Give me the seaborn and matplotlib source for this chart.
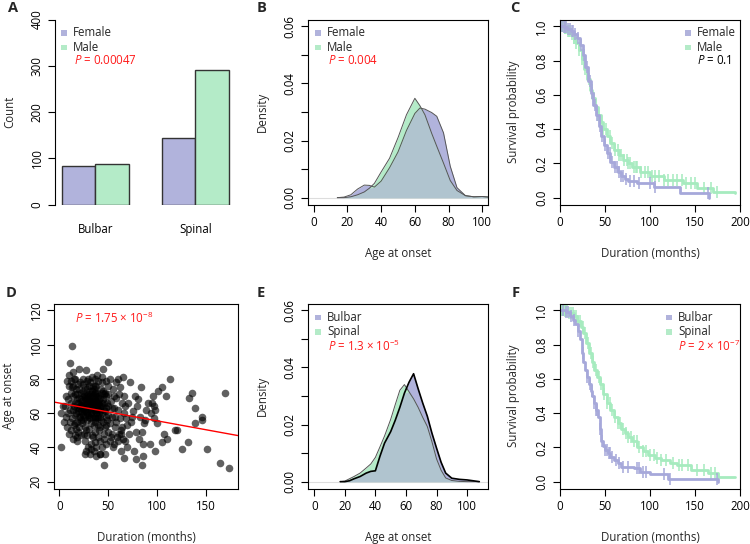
import numpy as np
import pandas as pd
import matplotlib
matplotlib.use("Agg")
import matplotlib.pyplot as plt
from matplotlib.patches import Rectangle
import seaborn as sns

# ---------------- data ----------------
onset_sites   = ["Bulbar", "Spinal"]
female_counts = [83, 144]
male_counts   = [87, 291]

# panel B: age-at-onset density by sex
b_age    = [14, 18, 22, 26, 30, 33, 36, 40, 45, 50, 55, 60, 63, 66, 70, 73, 77, 81, 85, 90, 95, 100, 104]
b_female = [0.0000, 0.0002, 0.0010, 0.0030, 0.0044, 0.0043, 0.0037, 0.0058, 0.0105, 0.0160, 0.0235, 0.0295,
            0.0314, 0.0310, 0.0298, 0.0285, 0.0227, 0.0110, 0.0035, 0.0007, 0.0003, 0.0004, 0.0002]
b_male   = [0.0000, 0.0000, 0.0003, 0.0010, 0.0020, 0.0033, 0.0050, 0.0090, 0.0138, 0.0210, 0.0290, 0.0348,
            0.0322, 0.0290, 0.0225, 0.0180, 0.0121, 0.0060, 0.0025, 0.0007, 0.0003, 0.0004, 0.0002]

# panel E: age-at-onset density by site
e_age    = [17, 20, 23, 26, 30, 34, 37, 40, 43, 46, 50, 53, 56, 59, 62, 65, 68, 71, 74, 77, 80, 83, 86, 90,
            95, 100, 104, 108]
e_bulbar = [0.0000, 0.0000, 0.0003, 0.0010, 0.0018, 0.0030, 0.0036, 0.0038, 0.0089, 0.0135, 0.0175, 0.0215,
            0.0260, 0.0310, 0.0348, 0.0378, 0.0325, 0.0275, 0.0229, 0.0170, 0.0118, 0.0068, 0.0030, 0.0012,
            0.0008, 0.0006, 0.0003, 0.0000]
e_spinal = [0.0000, 0.0002, 0.0010, 0.0018, 0.0030, 0.0048, 0.0062, 0.0085, 0.0122, 0.0160, 0.0218, 0.0270,
            0.0320, 0.0340, 0.0315, 0.0290, 0.0260, 0.0225, 0.0193, 0.0140, 0.0080, 0.0040, 0.0013, 0.0004,
            0.0001, 0.0000, 0.0000, 0.0000]

# panel C: survival by sex
c_female_t = [0, 4, 8, 12, 16, 19, 22, 25, 28, 31, 34, 37, 40, 43, 46, 49, 52, 56, 60, 64, 68, 72, 76, 85,
              104, 133, 165]
c_female_s = [1.00, 0.995, 0.985, 0.97, 0.955, 0.93, 0.89, 0.83, 0.76, 0.68, 0.61, 0.54, 0.48, 0.42, 0.36,
              0.31, 0.26, 0.21, 0.18, 0.15, 0.125, 0.11, 0.095, 0.084, 0.064, 0.029, 0.0]
c_female_cens = [2, 4, 5, 7, 9, 11, 13, 14, 17, 20, 23, 27, 30, 33, 36, 39, 41, 44, 47, 50, 53, 55, 58,
                 61, 63, 66, 68, 70, 73, 78, 82, 88, 100, 105, 164]
c_male_t = [0, 4, 8, 12, 15, 18, 21, 24, 27, 30, 33, 36, 39, 42, 45, 48, 52, 56, 60, 65, 70, 75, 80, 89,
            100, 115, 137, 152, 170, 194]
c_male_s = [1.00, 0.99, 0.975, 0.955, 0.93, 0.90, 0.86, 0.81, 0.75, 0.69, 0.63, 0.58, 0.53, 0.48, 0.44,
            0.40, 0.36, 0.32, 0.28, 0.25, 0.22, 0.20, 0.18, 0.15, 0.125, 0.103, 0.084, 0.055, 0.035, 0.026]
c_male_cens = [1, 2, 3, 5, 6, 7, 9, 10, 11, 13, 15, 16, 18, 21, 24, 28, 32, 35, 38, 42, 45, 48, 51, 55,
               58, 61, 64, 66, 68, 71, 74, 76, 78, 82, 84, 86, 90, 94, 98, 102, 106, 110, 115, 120, 125,
               130, 135, 140, 145, 150, 160, 168, 174]

# panel F: survival by site
f_bulbar_t = [0, 7, 11, 14, 17, 20, 22, 24, 26, 28, 30, 32, 34, 36, 38, 40, 42, 44, 46, 48, 50, 53, 56, 60,
              64, 68, 82, 89, 100, 120, 175]
f_bulbar_s = [1.0, 0.99, 0.965, 0.945, 0.92, 0.88, 0.83, 0.75, 0.70, 0.65, 0.61, 0.57, 0.53, 0.50, 0.46,
              0.42, 0.38, 0.31, 0.24, 0.21, 0.185, 0.165, 0.146, 0.125, 0.11, 0.088, 0.078, 0.058, 0.045,
              0.016, 0.0]
f_bulbar_cens = [3, 7, 9, 12, 15, 20, 25, 30, 33, 35, 38, 40, 41, 44, 47, 50, 52, 54, 55, 58, 62, 66, 70,
                 75, 85, 88, 92, 96, 115, 122, 174]
f_spinal_t = [0, 5, 10, 15, 19, 23, 26, 29, 32, 35, 38, 41, 44, 48, 52, 56, 60, 64, 68, 72, 76, 80, 86, 92,
              98, 105, 112, 122, 130, 145, 164, 175, 194]
f_spinal_s = [1.0, 0.995, 0.985, 0.965, 0.94, 0.90, 0.87, 0.81, 0.75, 0.70, 0.65, 0.61, 0.57, 0.51, 0.46,
              0.42, 0.38, 0.34, 0.31, 0.285, 0.26, 0.235, 0.205, 0.18, 0.155, 0.14, 0.127, 0.11, 0.098,
              0.068, 0.049, 0.026, 0.026]
f_spinal_cens = [1, 2, 3, 4, 6, 7, 8, 10, 12, 14, 16, 18, 20, 22, 25, 28, 31, 34, 37, 40, 43, 46, 49, 52,
                 55, 58, 61, 64, 67, 70, 73, 76, 79, 82, 85, 88, 92, 96, 100, 104, 108, 112, 118, 126,
                 132, 136, 142, 152, 160, 168, 172]

# panel D: duration vs age at onset
d_duration = [8, 10, 12, 14, 15, 16, 17, 18, 19, 20,
              21, 22, 23, 24, 25, 26, 27, 28, 29, 30,
              31, 32, 33, 34, 35, 36, 37, 38, 39, 40,
              41, 42, 43, 44, 45, 46, 47, 48, 49, 50,
              11, 13, 15, 17, 19, 21, 23, 25, 27, 29,
              31, 33, 35, 37, 39, 41, 43, 45, 47, 49,
              12, 14, 16, 18, 20, 22, 24, 26, 28, 30,
              32, 34, 36, 38, 40, 42, 44, 46, 48, 50,
              9, 11, 13, 15, 17, 19, 21, 23, 25, 27,
              29, 31, 33, 35, 37, 39, 41, 43, 45, 47,
              52, 53, 54, 55, 56, 57, 58, 59, 60, 61,
              52, 54, 56, 58, 60, 62, 63, 64, 65, 66,
              6, 7, 8, 10, 12, 14, 16, 18, 20, 22,
              24, 26, 28, 30, 32, 34, 36, 38, 40, 42,
              44, 46, 48, 50, 27, 29, 31, 35, 38, 42,
              22, 24, 26, 28, 30, 32, 34, 36, 38, 40,
              18, 20, 22, 24, 26, 28, 30, 32, 34, 36,
              38, 40, 42, 44, 46, 48, 50, 52, 54, 56,
              14, 16, 18, 20, 22, 26, 28, 30, 32, 34,
              36, 38, 40, 42, 44, 46, 48, 50, 16, 19,
              13, 11, 20, 27, 45, 50, 2, 2, 4, 65,
              72, 77, 84, 89, 96, 101, 105, 109, 113, 95,
              97, 87, 100, 107, 110, 93, 98, 105, 86, 86,
              85, 78, 76, 69, 66, 71, 85, 83, 97, 98,
              118, 120, 125, 132, 133, 136, 139, 139, 146, 146,
              151, 164, 173, 169, 46, 47, 42, 26, 32, 18,
              62, 64, 67, 68, 70, 73, 75, 78, 80, 82,
              58, 60, 63, 66, 69, 74, 79, 88, 91, 94,
              5, 7, 9, 10, 12, 14, 16, 24, 28, 33,
              36, 39, 44, 48, 53, 55, 57, 61, 63, 67,
              23, 25, 27, 29, 31, 33, 35, 37, 39, 41,
              24, 26, 28, 30, 32, 34, 36, 38, 40, 42]
d_age = [79, 76, 72, 70, 80, 66, 74, 63, 77, 69,
         58, 72, 65, 80, 61, 75, 68, 56, 71, 64,
         78, 60, 73, 67, 53, 76, 62, 70, 57, 79,
         65, 52, 74, 60, 68, 48, 72, 63, 56, 76,
         62, 57, 53, 60, 49, 64, 54, 70, 50, 59,
         67, 47, 62, 55, 66, 50, 64, 55, 61, 66,
         66, 62, 71, 55, 74, 61, 66, 52, 74, 70,
         54, 76, 58, 64, 53, 69, 78, 62, 70, 59,
         68, 55, 75, 64, 51, 66, 78, 60, 48, 63,
         80, 57, 69, 74, 49, 72, 60, 56, 73, 52,
         80, 67, 58, 74, 63, 52, 69, 46, 62, 71,
         44, 48, 42, 55, 44, 57, 50, 66, 45, 60,
         64, 58, 52, 48, 50, 45, 47, 44, 52, 47,
         56, 44, 47, 51, 42, 46, 43, 40, 46, 44,
         40, 45, 42, 49, 38, 40, 36, 38, 35, 36,
         68, 73, 62, 66, 76, 71, 64, 68, 60, 70,
         71, 63, 56, 63, 69, 60, 58, 66, 58, 63,
         76, 62, 58, 66, 71, 58, 64, 54, 63, 70,
         76, 59, 68, 58, 65, 58, 70, 67, 62, 70,
         72, 67, 66, 62, 72, 66, 53, 71, 54, 61,
         99, 89, 86, 85, 86, 90, 40, 60, 64, 81,
         78, 70, 75, 62, 70, 73, 75, 70, 80, 66,
         64, 54, 54, 48, 45, 42, 38, 43, 42, 35,
         30, 33, 38, 40, 34, 48, 49, 58, 57, 62,
         50, 50, 39, 43, 69, 72, 63, 54, 58, 56,
         39, 31, 28, 72, 30, 36, 36, 36, 39, 46,
         75, 52, 64, 57, 66, 55, 61, 49, 68, 45,
         78, 80, 48, 70, 53, 58, 64, 56, 66, 60,
         55, 70, 60, 82, 79, 84, 80, 77, 79, 81,
         80, 82, 81, 79, 46, 40, 58, 48, 38, 44,
         67, 71, 65, 69, 73, 63, 66, 72, 64, 68,
         59, 64, 61, 67, 60, 65, 57, 62, 58, 64]
d_intercept = 65.9
d_slope = -0.104

# ---------------- style ----------------
sns.set_theme(style="ticks")
plt.rcParams["font.family"] = ["Open Sans", "DejaVu Sans"]
plt.rcParams["mathtext.fontset"] = "custom"
plt.rcParams["mathtext.rm"] = "Open Sans"
plt.rcParams["mathtext.it"] = "Open Sans:italic"

LAV = "#b1b3dc"
MINT = "#b4ebc8"
OVER = "#b0c4cf"
LAV_LINE = "#a6a8da"
MINT_LINE = "#a6ebbf"
RED = "#ff1a1a"
FS = 8.3

W, H = 750, 544
fig = plt.figure(figsize=(W / 100, H / 100), dpi=100)


def add_ax(l, t, r, b):
    return fig.add_axes([l / W, 1 - b / H, (r - l) / W, (b - t) / H])


def r_style(ax, box=True):
    for s in ax.spines.values():
        s.set_linewidth(0.8)
        s.set_color("black")
        s.set_visible(box)
    ax.tick_params(direction="out", length=5, width=0.8, labelsize=FS, colors="black", pad=3.5)
    plt.setp(ax.get_yticklabels(), rotation=90, va="center")
    ax.grid(False)


def labels(ax, xlabel, ylabel, w, h):
    ax.set_xlabel(xlabel, fontsize=FS, va="center")
    ax.set_ylabel(ylabel, fontsize=FS, va="center")
    ax.xaxis.set_label_coords(0.5, -49 / h)
    ax.yaxis.set_label_coords(-46 / w, 0.5)


def key(x, y, color, text):
    fig.add_artist(Rectangle(((x - 2.7) / W, 1 - (y + 2.7) / H), 5.4 / W, 5.4 / H,
                             transform=fig.transFigure, color=color, lw=0))
    fig.text((x + 9) / W, 1 - y / H, text, fontsize=FS, va="center", ha="left")


def ptext(x, y, text, color):
    fig.text(x / W, 1 - y / H, text, fontsize=FS, va="center", ha="left", color=color)


def panel(x, y, letter):
    fig.text(x / W, 1 - y / H, letter, fontsize=10.5, fontweight="bold", va="center", ha="left")


def step_at(times, surv, pts):
    idx = np.searchsorted(times, pts, side="right") - 1
    return np.asarray(surv)[idx]


# ---------------- A: bar chart ----------------
ax = add_ax(55.4, 19.5, 235.4, 204.5)
bar_df = pd.DataFrame({
    "site": onset_sites * 2,
    "sex": ["Female"] * 2 + ["Male"] * 2,
    "count": female_counts + male_counts,
})
sns.barplot(data=bar_df, x="site", y="count", hue="sex", palette=[LAV, MINT],
            width=2 / 3, edgecolor="#333333", linewidth=1.0, saturation=1, ax=ax, legend=False)
ax.set_xlim(-0.4, 1.4)
ax.set_ylim(0, 400)
ax.set_yticks([0, 100, 200, 300, 400])
r_style(ax, box=False)
ax.spines["left"].set_visible(True)
ax.tick_params(axis="x", length=0, pad=13)
labels(ax, "", "Count", 180, 185)
key(64, 33, LAV, "Female")
key(64, 47.5, MINT, "Male")
ptext(74, 61, r"$P$ = 0.00047", RED)
panel(8, 8, "A")


# ---------------- density panels ----------------
def density_panel(box, xs, d1, d2, xlim, lw1, c1, lw2, c2):
    ax = add_ax(*box)
    x = np.asarray(xs)
    y1 = np.asarray(d1)
    y2 = np.asarray(d2)
    ax.axhline(0, color="#dddddd", lw=0.8, zorder=0)
    ax.fill_between(x, 0, y1, color=LAV, lw=0)
    ax.fill_between(x, 0, y2, color=MINT, lw=0)
    ax.fill_between(x, 0, np.minimum(y1, y2), color=OVER, lw=0)
    sns.lineplot(x=x, y=y2, color=c2, lw=lw2, ax=ax)
    sns.lineplot(x=x, y=y1, color=c1, lw=lw1, ax=ax)
    ax.set_xlim(*xlim)
    ax.set_ylim(-0.0024, 0.0624)
    ax.set_xticks([0, 20, 40, 60, 80, 100])
    ax.set_yticks([0, 0.01, 0.02, 0.03, 0.04, 0.05, 0.06])
    ax.set_yticklabels(["0.00", "", "0.02", "", "0.04", "", "0.06"])
    r_style(ax)
    labels(ax, "Age at onset", "Density", 180, 185)
    return ax


density_panel((308, 19.5, 488, 204.5), b_age, b_female, b_male, (-3.4, 103.4),
              0.7, "#555555", 0.7, "#555555")
key(318, 33, LAV, "Female")
key(318, 47.5, MINT, "Male")
ptext(328, 61, r"$P$ = 0.004", RED)
panel(257, 8, "B")

density_panel((308, 303.5, 488, 488.5), e_age, e_bulbar, e_spinal, (-4.1, 113.7),
              1.2, "black", 0.7, "#555555")
key(318, 317.5, LAV, "Bulbar")
key(318, 332, MINT, "Spinal")
ptext(328, 346, r"$P$ = 1.3 × 10$^{-5}$", RED)
panel(257, 293, "E")


# ---------------- survival panels ----------------
def surv_panel(box, t1, s1, c1, t2, s2, c2):
    ax = add_ax(*box)
    for t, s, cens, col in ((t2, s2, c2, MINT_LINE), (t1, s1, c1, LAV_LINE)):
        sns.lineplot(x=t, y=s, drawstyle="steps-post", color=col, lw=2.0, ax=ax, estimator=None)
        ax.plot(cens, step_at(t, s, cens), ls="none", marker="|", ms=8, mew=1.1, color=col)
    ax.set_xlim(0, 200)
    ax.set_ylim(-0.04, 1.04)
    ax.set_xticks([0, 50, 100, 150, 200])
    ax.set_yticks([0, 0.2, 0.4, 0.6, 0.8, 1.0])
    ax.set_yticklabels(["0.0", "0.2", "0.4", "0.6", "0.8", "1.0"])
    r_style(ax)
    labels(ax, "Duration (months)", "Survival probability", 180, 185)
    return ax


surv_panel((560, 19.5, 740, 204.5), c_female_t, c_female_s, c_female_cens,
           c_male_t, c_male_s, c_male_cens)
key(688, 33, LAV, "Female")
key(688, 47.5, MINT, "Male")
ptext(697, 61, r"$P$ = 0.1", "black")
panel(510, 8, "C")

surv_panel((560, 303.5, 740, 488.5), f_bulbar_t, f_bulbar_s, f_bulbar_cens,
           f_spinal_t, f_spinal_s, f_spinal_cens)
key(669, 317.5, LAV, "Bulbar")
key(669, 332, MINT, "Spinal")
ptext(678, 346, r"$P$ = 2 × 10$^{-7}$", RED)
panel(512, 293, "F")

# ---------------- D: scatter ----------------
ax = add_ax(54.3, 303.5, 237.7, 488.5)
sns.scatterplot(x=d_duration, y=d_age, color="black", alpha=0.62, s=30, linewidth=0, ax=ax)
ax.axline((0, d_intercept), slope=d_slope, color="red", lw=1.0)
ax.set_xlim(-5.1, 182.4)
ax.set_ylim(16, 124)
ax.set_xticks([0, 50, 100, 150])
ax.set_yticks([20, 40, 60, 80, 100, 120])
r_style(ax)
labels(ax, "Duration (months)", "Age at onset", 184, 185)
ptext(75, 318, r"$P$ = 1.75 × 10$^{-8}$", RED)
panel(6, 293, "D")

fig.savefig("out.png", dpi=100)
